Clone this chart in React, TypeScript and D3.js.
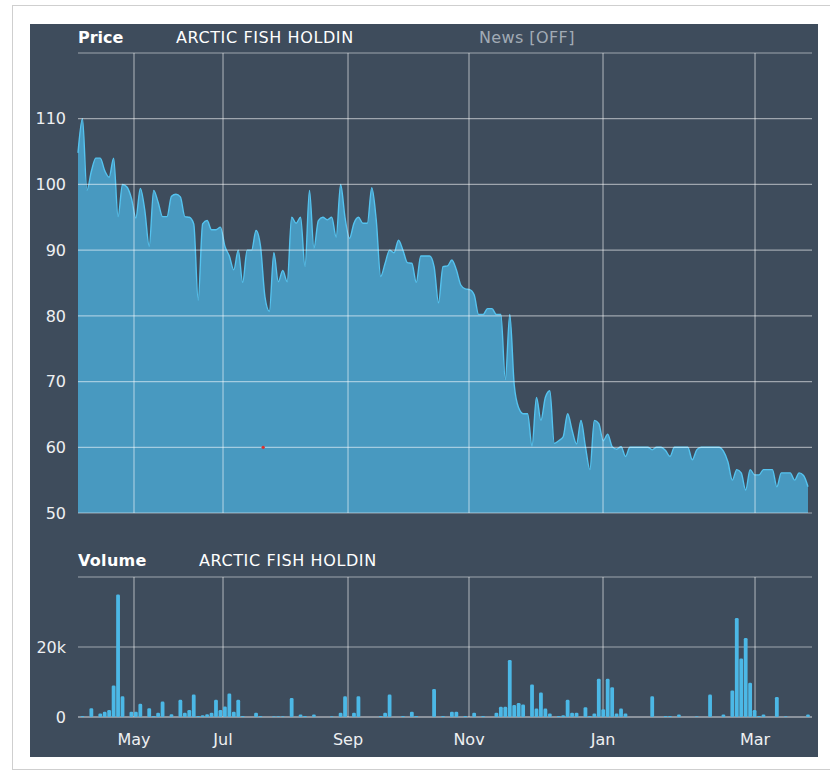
import React from "react";
import * as d3 from "d3";

const title = "ARCTIC FISH HOLDIN";

// Daily closing prices (trading-day index order)
const priceValues: number[] = [
  104.8, 110, 99.1, 102, 104, 104, 102.1, 101.1, 104, 95.1, 100, 99.6, 97.9, 94.9,
  99.4, 96.1, 90.6, 99.1, 97.3, 95.1, 95.1, 98.2, 98.5, 98.1, 95.1, 95, 94, 82.4,
  94, 94.5, 93.1, 93.1, 93.5, 90.6, 89.1, 87, 90, 85.1, 90, 90, 93, 90.6,
  82.9, 80.7, 89.6, 85.2, 86.9, 85.2, 95, 94.1, 95, 87.5, 99.1, 90.3, 94.5, 95,
  94.6, 95, 92, 100, 94.9, 91.8, 94.1, 95, 94.1, 94.1, 99.5, 94.6, 86, 88,
  90, 89.6, 91.5, 90, 88.1, 88, 85.1, 89.1, 89.1, 89.1, 87.5, 82, 87.5,
  87.6, 88.5, 87, 84.7, 84.1, 84, 83.2, 80.2, 80.2, 81.1, 81.1, 80.2, 80.2,
  70.3, 80.2, 69.5, 66, 65.1, 65.1, 60.2, 67.6, 64.1, 67.6, 68.6, 60.6, 61,
  61.6, 65.1, 62.6, 60.5, 64.1, 60.1, 56.6, 64.1, 63.6, 61, 62, 60.1, 59.7,
  60.1, 58.6, 60, 60, 60, 60, 60, 59.6, 60, 60, 59.5, 58.6, 60,
  60, 60, 60, 58.1, 59.6, 60, 60, 60, 60, 60, 59.4, 57.8, 55,
  56.6, 56.1, 53.5, 56.6, 55.8, 55.8, 56.6, 56.6, 56.6, 54, 56.1, 56.1, 56.1, 55, 56.1, 55.7, 54,
];

// Daily volume in thousands
const volumeK: number[] = [
  0, 0.3, 0, 2.5, 0, 1.0, 1.5, 2.0, 9.0, 35.0,
  5.9, 0, 1.5, 1.5, 3.8, 0, 2.5, 0.3, 1.2, 4.4,
  0, 0.8, 0, 4.9, 1.2, 2.0, 6.4, 0.3, 0.5, 0.8,
  1.2, 4.9, 2.0, 3.0, 6.7, 1.5, 4.9, 0.3, 0, 0,
  1.2, 0.3, 0, 0, 0.2, 0.2, 0.2, 0, 5.4, 0,
  0.7, 0.3, 0, 0.7, 0, 0, 0, 0.2, 0, 1.2,
  5.9, 0, 1.2, 5.9, 0, 0, 0, 0, 0.3, 1.2,
  6.4, 0, 0, 0.3, 0, 1.5, 0.3, 0, 0, 0,
  8.0, 0, 0.3, 0, 1.5, 1.5, 0, 0.3, 0, 1.2,
  0, 0.3, 0, 0, 1.2, 2.9, 2.9, 16.3, 3.4, 4.0,
  3.6, 0, 9.3, 2.4, 7.0, 2.4, 1.0, 0, 0.3, 0.5,
  4.9, 1.2, 1.2, 0, 2.8, 0.3, 1.0, 10.9, 2.2, 10.9,
  8.5, 1.0, 2.4, 1.0, 0, 0, 0, 0, 0, 5.9,
  0, 0, 0.3, 0.3, 0, 0.7, 0, 0, 0, 0.2,
  0, 0, 6.4, 0, 0, 0.7, 0, 7.6, 28.3, 16.7,
  22.6, 9.8, 2.0, 0.3, 0.7, 0, 0, 5.7, 0, 0.2,
  0, 0, 0, 0, 0.7,
];

// Month boundaries expressed in trading-day index
const monthLabels = ["May", "Jul", "Sep", "Nov", "Jan", "Mar"];
const monthIndex = [12.58, 32.58, 60.66, 87.84, 117.95, 152.1];

const priceGridValues = [50, 60, 70, 80, 90, 100, 110, 120];
const priceTickLabels = [50, 60, 70, 80, 90, 100, 110];
const volumeGridValues = [0, 20000, 40000];
const volumeTickLabels = ["0", "20k"];
const volumeTickValues = [0, 20000];

const markerIndex = [41.6];
const markerValue = [60];

const W = 830;
const H = 771;
const FONT = "'DejaVu Sans', Verdana, sans-serif";

export default function App() {
  const n = priceValues.length;
  const x = d3.scaleLinear().domain([0, n - 1]).range([78, 808]);
  const yP = d3.scaleLinear().domain([50, 120]).range([513, 53]);
  const yV = d3.scaleLinear().domain([0, 40000]).range([717, 577]);

  const area = d3
    .area<number>()
    .x((_, i) => x(i))
    .y0(yP(50))
    .y1((d) => yP(d))
    .curve(d3.curveMonotoneX);
  const line = d3
    .line<number>()
    .x((_, i) => x(i))
    .y((d) => yP(d))
    .curve(d3.curveMonotoneX);

  const gridColor = "rgba(255,255,255,0.5)";
  const gridRight = 812;
  const barW = 3.8;

  return (
    <svg
      width={W}
      height={H}
      style={{ position: "absolute", left: 0, top: 0, background: "#ffffff" }}
      fontFamily={FONT}
    >
      <rect x={12.5} y={5.5} width={830} height={764} fill="#ffffff" stroke="#cfcfcf" />
      <rect x={30} y={24} width={788} height={733} fill="#3e4c5c" />

      {/* Price header */}
      <text x={78} y={43} fill="#ffffff" fontSize={16} fontWeight="bold">Price</text>
      <text x={176} y={43} fill="#ffffff" fontSize={16} letterSpacing={0.6}>{title}</text>
      <text x={479} y={43} fill="#a2abb5" fontSize={16} letterSpacing={0.4}>News [OFF]</text>

      {/* Price area */}
      <path d={area(priceValues) || ""} fill="#4899c0" />
      <path d={line(priceValues) || ""} fill="none" stroke="#55c3ef" strokeWidth={1.4} />

      {/* Price grid */}
      {priceGridValues.map((v) => (
        <line key={"pg" + v} x1={78} x2={gridRight} y1={yP(v)} y2={yP(v)} stroke={gridColor} strokeWidth={1.2} />
      ))}
      {monthIndex.map((m, k) => (
        <line key={"pv" + k} x1={x(m)} x2={x(m)} y1={yP(120)} y2={yP(50)} stroke={gridColor} strokeWidth={1.2} />
      ))}
      {priceTickLabels.map((v) => (
        <text key={"pl" + v} x={66} y={yP(v)} dy="0.36em" textAnchor="end" fill="#eef0f2" fontSize={16}>
          {v}
        </text>
      ))}
      {markerIndex.map((m, k) => (
        <circle key={"mk" + k} cx={x(m)} cy={yP(markerValue[k])} r={1.6} fill="#e0302a" />
      ))}

      {/* Volume header */}
      <text x={78} y={566} fill="#ffffff" fontSize={16} fontWeight="bold" letterSpacing={0.3}>Volume</text>
      <text x={199} y={566} fill="#ffffff" fontSize={16} letterSpacing={0.6}>{title}</text>

      {/* Volume grid */}
      {volumeGridValues.map((v) => (
        <line key={"vg" + v} x1={78} x2={gridRight} y1={yV(v)} y2={yV(v)} stroke={v === 0 ? "rgba(255,255,255,0.8)" : gridColor} strokeWidth={1.2} />
      ))}
      {monthIndex.map((m, k) => (
        <line key={"vv" + k} x1={x(m)} x2={x(m)} y1={yV(40000)} y2={yV(0)} stroke={gridColor} strokeWidth={1.2} />
      ))}

      {/* Volume bars */}
      {volumeK.map((v, i) =>
        v > 0 ? (
          <rect
            key={"vb" + i}
            x={x(i) - barW / 2}
            y={yV(v * 1000)}
            width={barW}
            height={yV(0) - yV(v * 1000)}
            rx={1.3}
            fill="#4cb8e6"
          />
        ) : null
      )}

      {volumeTickValues.map((v, k) => (
        <text key={"vl" + v} x={66} y={yV(v)} dy="0.36em" textAnchor="end" fill="#eef0f2" fontSize={16}>
          {volumeTickLabels[k]}
        </text>
      ))}

      {/* Month labels */}
      {monthIndex.map((m, k) => (
        <text key={"ml" + k} x={x(m)} y={745} textAnchor="middle" fill="#eef0f2" fontSize={16}>
          {monthLabels[k]}
        </text>
      ))}
    </svg>
  );
}
